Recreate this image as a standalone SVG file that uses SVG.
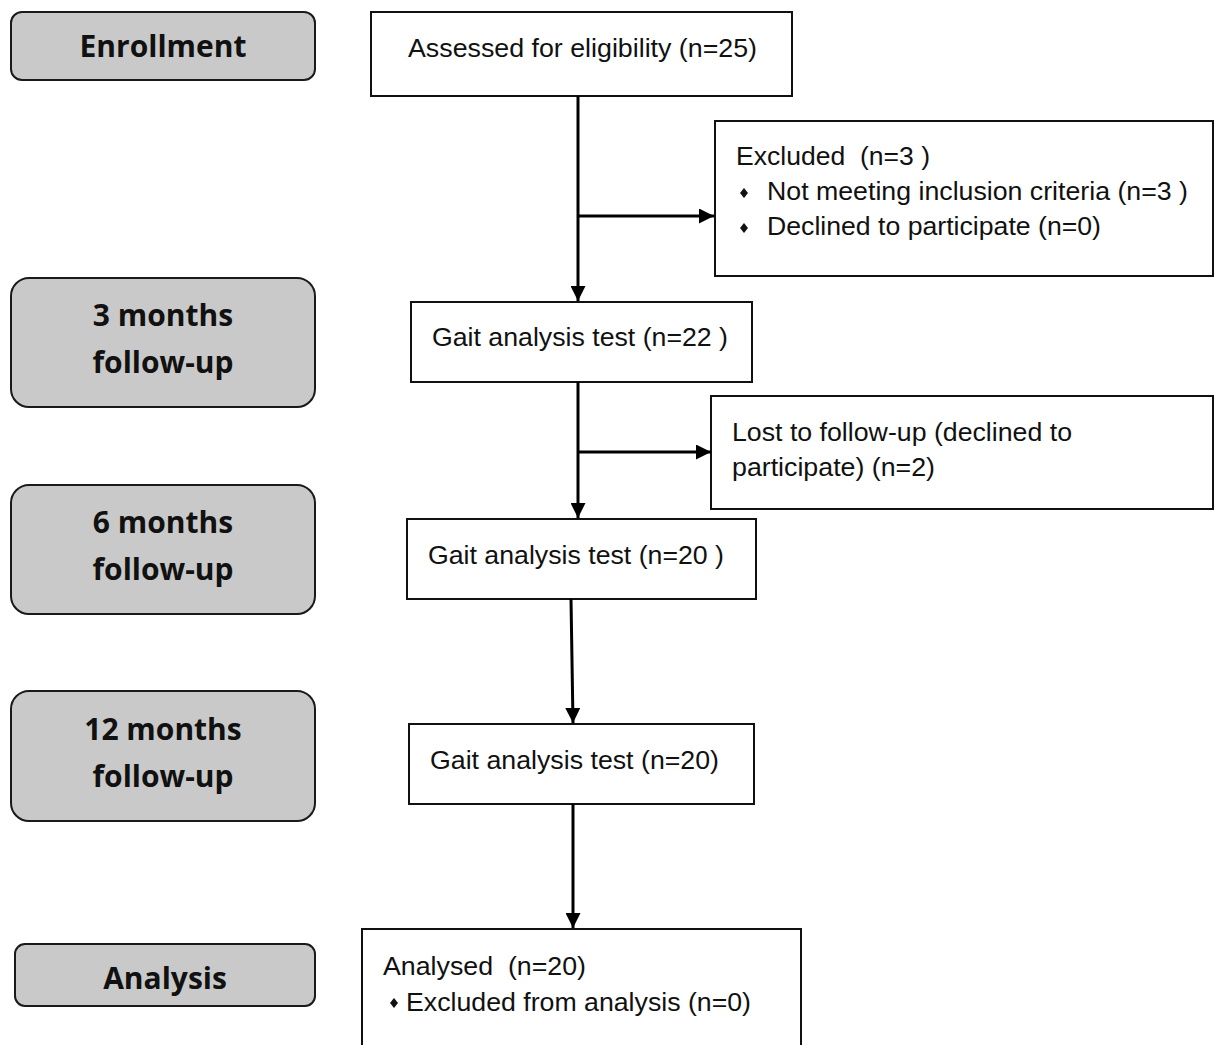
<svg xmlns="http://www.w3.org/2000/svg" width="1215" height="1045" viewBox="0 0 1215 1045">
<style>
.stage rect{fill:#c9c9c9;stroke:#1a1a1a;stroke-width:2}
.stage text{font-family:"Open Sans","Noto Sans",sans-serif;font-weight:bold;font-size:30px;fill:#111;text-anchor:middle}
.box rect{fill:#fff;stroke:#111;stroke-width:2}
.box text{font-family:"Liberation Sans",Arial,sans-serif;font-size:25px;fill:#111;white-space:pre}
.conn line{stroke:#000;stroke-width:3}
.bul{fill:#111}
</style>
<defs>
<marker id="ah" viewBox="0 0 10 10" refX="10" refY="5" markerWidth="5" markerHeight="5" orient="auto" markerUnits="strokeWidth">
<path d="M0,0 L10,5 L0,10 Z" fill="#000"/>
</marker>
</defs>
<rect width="1215" height="1045" fill="#fff"/>

<g id="stage-enrollment" class="stage"><rect x="11" y="12" width="304" height="68" rx="11"/><text x="163" y="57">Enrollment</text></g>
<g id="stage-3m" class="stage"><rect x="11" y="278" width="304" height="129" rx="18"/><text x="163" y="326">3 months</text><text x="163" y="373">follow-up</text></g>
<g id="stage-6m" class="stage"><rect x="11" y="485" width="304" height="129" rx="18"/><text x="163" y="533">6 months</text><text x="163" y="580">follow-up</text></g>
<g id="stage-12m" class="stage"><rect x="11" y="691" width="304" height="130" rx="18"/><text x="163" y="740">12 months</text><text x="163" y="787">follow-up</text></g>
<g id="stage-analysis" class="stage"><rect x="15" y="944" width="300" height="62" rx="10"/><text x="165" y="989">Analysis</text></g>

<g id="assessed" class="box"><rect x="371" y="12" width="421" height="84"/><text x="408" y="57" textLength="349" lengthAdjust="spacingAndGlyphs">Assessed for eligibility (n=25)</text></g>
<g id="excluded" class="box"><rect x="715" y="121" width="498" height="155"/>
<text x="736" y="165" textLength="194" lengthAdjust="spacingAndGlyphs">Excluded  (n=3 )</text>
<polygon class="bul" points="744,188 748,193 744,198 740,193"/><text x="767" y="200" textLength="421" lengthAdjust="spacingAndGlyphs">Not meeting inclusion criteria (n=3 )</text>
<polygon class="bul" points="744,223 748,228 744,233 740,228"/><text x="767" y="235" textLength="334" lengthAdjust="spacingAndGlyphs">Declined to participate (n=0)</text></g>
<g id="gait3" class="box"><rect x="411" y="302" width="341" height="80"/><text x="432" y="346" textLength="296" lengthAdjust="spacingAndGlyphs">Gait analysis test (n=22 )</text></g>
<g id="lost" class="box"><rect x="711" y="396" width="502" height="113"/><text x="732" y="441" textLength="340" lengthAdjust="spacingAndGlyphs">Lost to follow-up (declined to</text><text x="732" y="476" textLength="203" lengthAdjust="spacingAndGlyphs">participate) (n=2)</text></g>
<g id="gait6" class="box"><rect x="407" y="519" width="349" height="80"/><text x="428" y="564" textLength="296" lengthAdjust="spacingAndGlyphs">Gait analysis test (n=20 )</text></g>
<g id="gait12" class="box"><rect x="409" y="724" width="345" height="80"/><text x="430" y="769" textLength="289" lengthAdjust="spacingAndGlyphs">Gait analysis test (n=20)</text></g>
<g id="analysed" class="box"><rect x="362" y="929" width="439" height="130"/>
<text x="383" y="975" textLength="203" lengthAdjust="spacingAndGlyphs">Analysed  (n=20)</text>
<polygon class="bul" points="394,998 398,1003 394,1008 390,1003"/><text x="406" y="1011" textLength="345" lengthAdjust="spacingAndGlyphs">Excluded from analysis (n=0)</text></g>

<g id="connectors" class="conn">
<line x1="578" y1="96" x2="578" y2="301" marker-end="url(#ah)"/>
<line x1="578" y1="216" x2="714" y2="216" marker-end="url(#ah)"/>
<line x1="578" y1="382" x2="578" y2="518" marker-end="url(#ah)"/>
<line x1="578" y1="452" x2="711" y2="452" marker-end="url(#ah)"/>
<line x1="571" y1="599" x2="573" y2="723" marker-end="url(#ah)"/>
<line x1="573" y1="804" x2="573" y2="928" marker-end="url(#ah)"/>
</g>
</svg>
